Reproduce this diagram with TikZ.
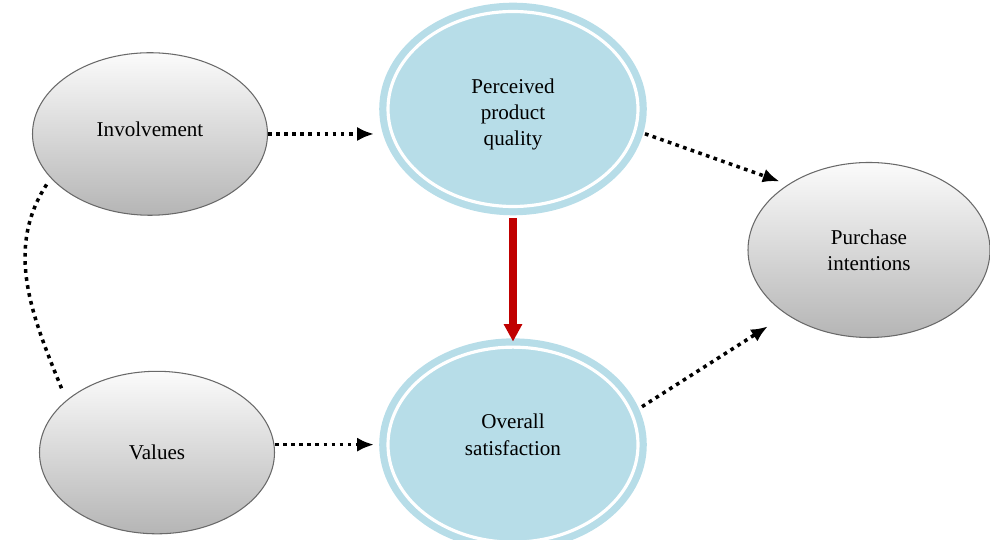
\documentclass[tikz,border=0pt]{standalone}
\usepackage{fontspec}
\setmainfont{Liberation Serif}
\usepackage{xcolor}
\usepackage{tikz}
\usetikzlibrary{positioning, arrows.meta, shapes.geometric}
\definecolor{qblue}{RGB}{183,221,232}
\definecolor{qred}{RGB}{192,0,0}
\definecolor{qrim}{RGB}{105,105,105}
% text block with extra room above (#1) or below (#2)
\newcommand{\qlines}[3]{\raisebox{0pt}[\dimexpr\height+#1\relax][\dimexpr\depth+#2\relax]{\begin{tabular}{@{}c@{}}#3\end{tabular}}}

\begin{document}
\begin{tikzpicture}[
    every node/.style={
        ellipse,
        align=center,
        inner sep=0pt,
        font=\fontsize{12}{15}\selectfont
    },
    greyvar/.style={
        draw=qrim,
        line width=0.6pt,
        top color=gray!3,
        bottom color=gray!58,
        minimum width=4.7cm,
        minimum height=3.25cm
    },
    bluevar/.style={
        fill=qblue,
        draw=white,
        line width=1.8pt,
        preaction={draw=qblue, line width=10pt},
        minimum width=5cm,
        minimum height=3.9cm
    },
    dotline/.style={line width=2pt, dash pattern=on 2.1pt off 2.5pt},
    arrow/.style={dotline, -{Latex[length=9.5pt,width=8pt]}},
    redarrow/.style={qred, line width=4pt, -{Triangle[length=10pt,width=10pt]}}
]
\useasboundingbox (0,0) rectangle (19.8,10.8);

\node[greyvar] (involve) at (3.0,8.12) {\qlines{0pt}{3pt}{Involvement}};
\node[greyvar, below=3.1cm of involve, xshift=0.14cm] (values) {Values};
\node[bluevar] (quality) at (10.26,8.62) {\qlines{6pt}{0pt}{Perceived\\product\\quality}};
\node[bluevar, below=2.75cm of quality] (satisf) {\qlines{0pt}{9pt}{Overall\\satisfaction}};
\node[greyvar, minimum width=4.84cm, minimum height=3.5cm] (intent) at (17.38,5.8) {Purchase\\intentions};

\draw[arrow, shorten >=0.25cm] (involve.east) -- (involve.east -| quality.west);
\draw[arrow, shorten >=0.25cm] (values.east |- satisf.west) -- (satisf.west);
\draw[arrow, shorten <=0.18cm, shorten >=0.18cm] (quality.-10) -- (intent.141);
\draw[arrow, shorten <=0.22cm, shorten >=0.44cm] (satisf.15) -- (intent.218);
\draw[redarrow, shorten <=0.2cm, shorten >=0.08cm] (quality.south) -- (satisf.north);
\draw[dotline, shorten <=0.15cm, shorten >=0.2cm] (involve.204) to[out=237, in=112] (values.150);

\end{tikzpicture}
\end{document}
